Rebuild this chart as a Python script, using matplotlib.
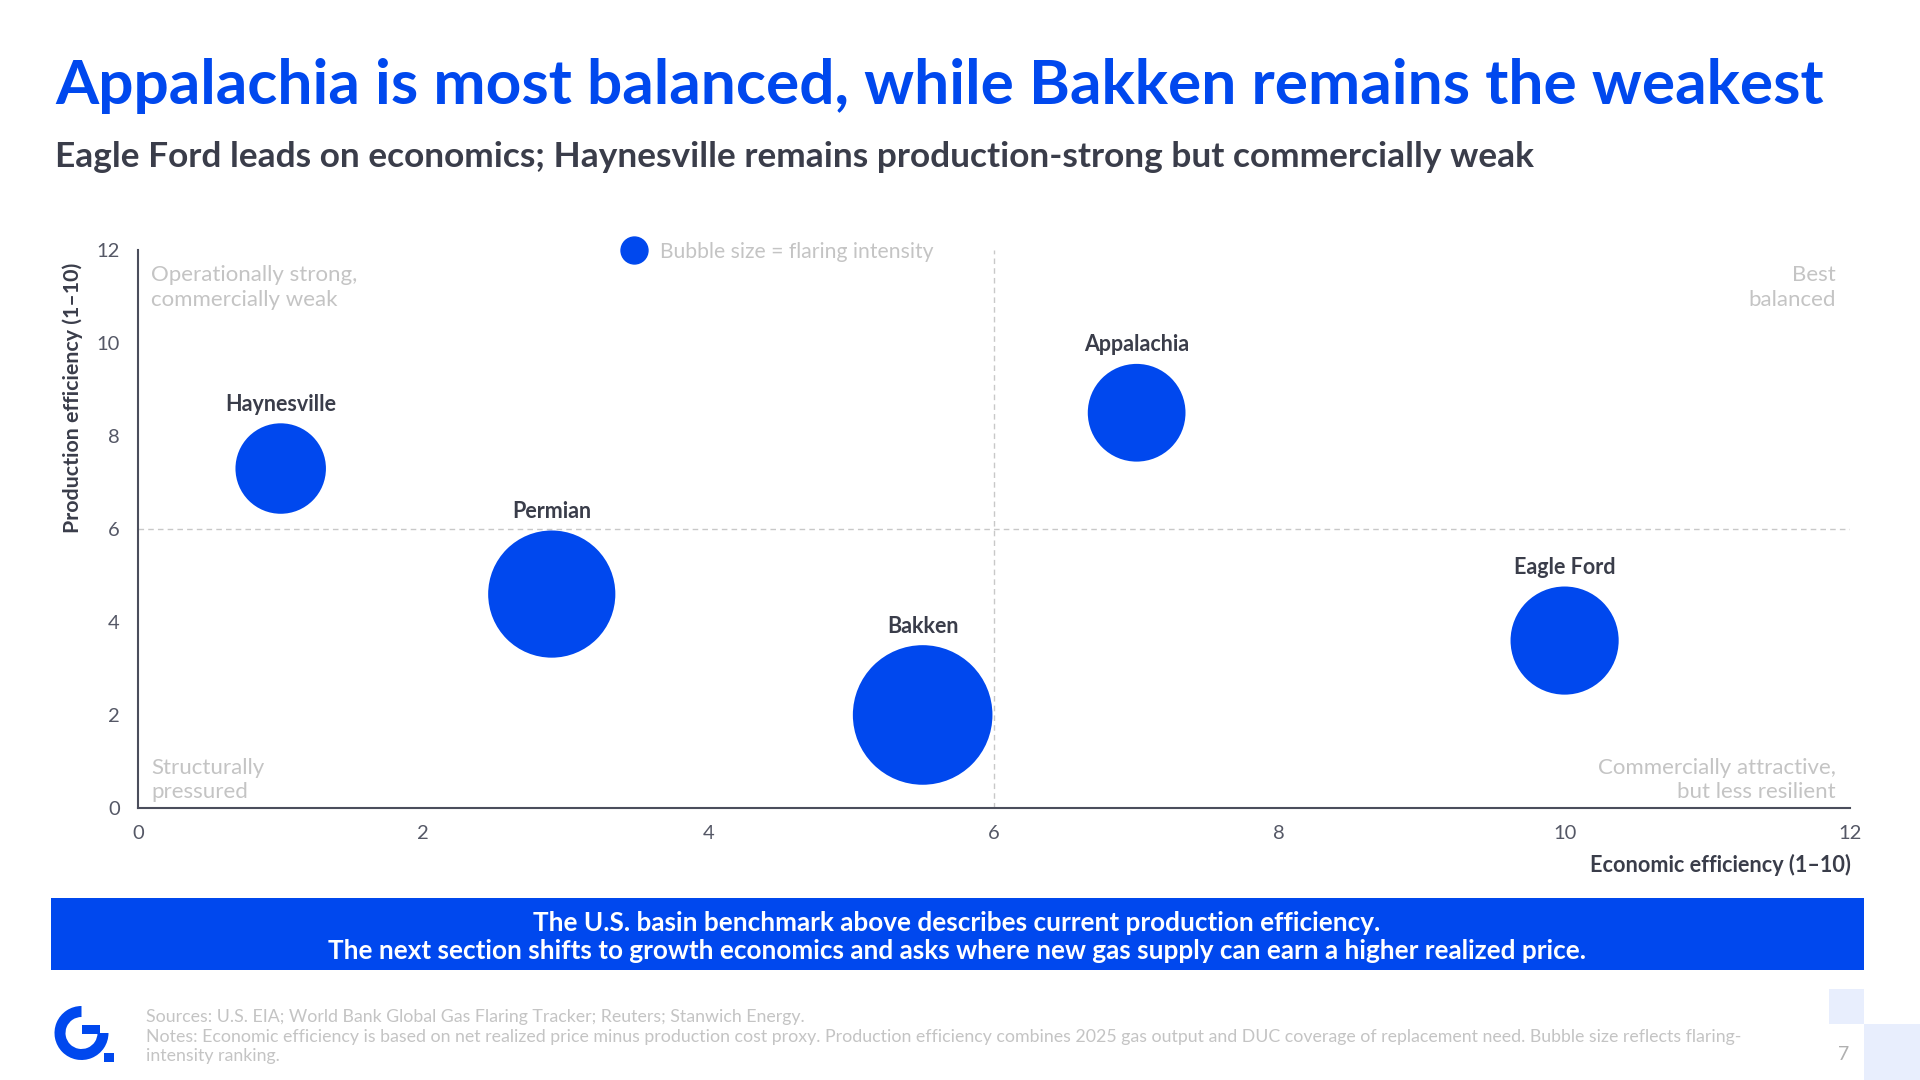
import numpy as np
import matplotlib
matplotlib.use("Agg")
import matplotlib.pyplot as plt
from matplotlib.patches import Rectangle, Wedge
from matplotlib.transforms import IdentityTransform

# data
basins = ["Haynesville", "Permian", "Bakken", "Appalachia", "Eagle Ford"]
economic = [1.0, 2.9, 5.5, 7.0, 10.0]
production = [7.3, 4.6, 2.0, 8.5, 3.6]
flaring = [4.2, 8.3, 10.0, 4.9, 6.0]

x_ticks = [0, 2, 4, 6, 8, 10, 12]
y_ticks = [0, 2, 4, 6, 8, 10, 12]

BLUE = "#0048EE"
DARK = "#3A3D4A"
LIGHT = "#C4C4C4"

plt.rcParams["font.family"] = ["Lato", "DejaVu Sans"]

fig = plt.figure(figsize=(19.2, 10.8), dpi=100)
ax = fig.add_axes([0.0719, 0.2519, 0.8916, 0.5166])

# bubble radius in pixels, area proportional to flaring intensity
radius_px = 69.8 * np.sqrt(np.array(flaring) / 10.0)
sizes = (2 * radius_px * 0.72) ** 2

ax.axhline(6, color="#C8C8C8", lw=1, ls=(0, (4, 3)), zorder=1)
ax.axvline(6, color="#C8C8C8", lw=1, ls=(0, (4, 3)), zorder=1)

ax.scatter(economic, production, s=sizes, color=BLUE, edgecolors="none", zorder=3)

for name, x, y, r in zip(basins, economic, production, radius_px):
    ax.annotate(name, (x, y), xytext=(0, (r + 19) * 0.72), textcoords="offset points",
                ha="center", va="center", fontsize=15.5, fontweight="bold", color=DARK)

ax.set_xlim(0, 12)
ax.set_ylim(0, 12)
ax.set_xticks(x_ticks)
ax.set_yticks(y_ticks)
ax.tick_params(axis="both", length=0, labelsize=14.5, labelcolor="#555866")
ax.tick_params(axis="x", pad=12.5)
ax.tick_params(axis="y", pad=13)
for side in ["top", "right"]:
    ax.spines[side].set_visible(False)
for side in ["left", "bottom"]:
    ax.spines[side].set_color("#4B4E5C")
    ax.spines[side].set_linewidth(1.5)

# quadrant notes
note_kw = dict(fontsize=16, color=LIGHT, linespacing=1.3)
ax.text(0.09, 11.2, "Operationally strong,\ncommercially weak", ha="left", va="center", **note_kw)
ax.text(11.9, 11.2, "Best\nbalanced", ha="right", va="center", **note_kw)
ax.text(0.09, 0.6, "Structurally\npressured", ha="left", va="center", **note_kw)
ax.text(11.9, 0.6, "Commercially attractive,\nbut less resilient", ha="right", va="center", **note_kw)

# bubble size legend
ax.plot([0.3302], [0.7685], marker="o", markersize=19.4, color=BLUE, transform=fig.transFigure,
        clip_on=False, zorder=4)
fig.text(0.3438, 0.7665, "Bubble size = flaring intensity", ha="left", va="center",
         fontsize=15.2, color=LIGHT)

# axis titles
fig.text(0.038, 0.7565, "Production efficiency (1\u201310)", rotation=90, ha="center", va="top",
         fontsize=15.4, fontweight="bold", color=DARK)
fig.text(0.964, 0.199, "Economic efficiency (1\u201310)", ha="right", va="center",
         fontsize=15.6, fontweight="bold", color=DARK)

# headings
fig.text(0.0286, 0.920, "Appalachia is most balanced, while Bakken remains the weakest",
         ha="left", va="center", fontsize=44.8, fontweight="bold", color=BLUE)
fig.text(0.0286, 0.855, "Eagle Ford leads on economics; Haynesville remains production-strong but commercially weak",
         ha="left", va="center", fontsize=25.4, fontweight="bold", color=DARK)

# banner
fig.add_artist(Rectangle((0.0266, 0.1019), 0.9442, 0.0666, transform=fig.transFigure,
                         facecolor=BLUE, edgecolor="none"))
fig.text(0.4984, 0.1458, "The U.S. basin benchmark above describes current production efficiency.",
         ha="center", va="center", fontsize=18.8, fontweight="bold", color="white")
fig.text(0.4984, 0.1199, "The next section shifts to growth economics and asks where new gas supply can earn a higher realized price.",
         ha="center", va="center", fontsize=18.8, fontweight="bold", color="white")

# footer
foot_kw = dict(ha="left", va="center", fontsize=12.8, color=LIGHT)
fig.text(0.076, 0.0580, "Sources: U.S. EIA; World Bank Global Gas Flaring Tracker; Reuters; Stanwich Energy.", **foot_kw)
fig.text(0.076, 0.0395, "Notes: Economic efficiency is based on net realized price minus production cost proxy. "
         "Production efficiency combines 2025 gas output and DUC coverage of replacement need. Bubble size reflects flaring-",
         **foot_kw)
fig.text(0.076, 0.0219, "intensity ranking.", **foot_kw)
fig.text(0.960, 0.024, "7", ha="center", va="center", fontsize=14, color="#B0B0B0")

# corner squares
fig.add_artist(Rectangle((0.9526, 0.0519), 0.0182, 0.0324, transform=fig.transFigure,
                         facecolor="#E8EEFD", edgecolor="none", zorder=0))
fig.add_artist(Rectangle((0.9708, 0.0), 0.0292, 0.0519, transform=fig.transFigure,
                         facecolor="#E8EEFD", edgecolor="none", zorder=0))

# logo (pixel coords)
logo = [Wedge((81.5, 47), 27, 90, 360, width=11),
        Rectangle((82, 46), 18, 9),
        Rectangle((104, 18), 10, 9)]
for p in logo:
    p.set_transform(IdentityTransform())
    p.set_facecolor(BLUE)
    p.set_edgecolor("none")
    fig.add_artist(p)

fig.savefig("out.png", dpi=100)
